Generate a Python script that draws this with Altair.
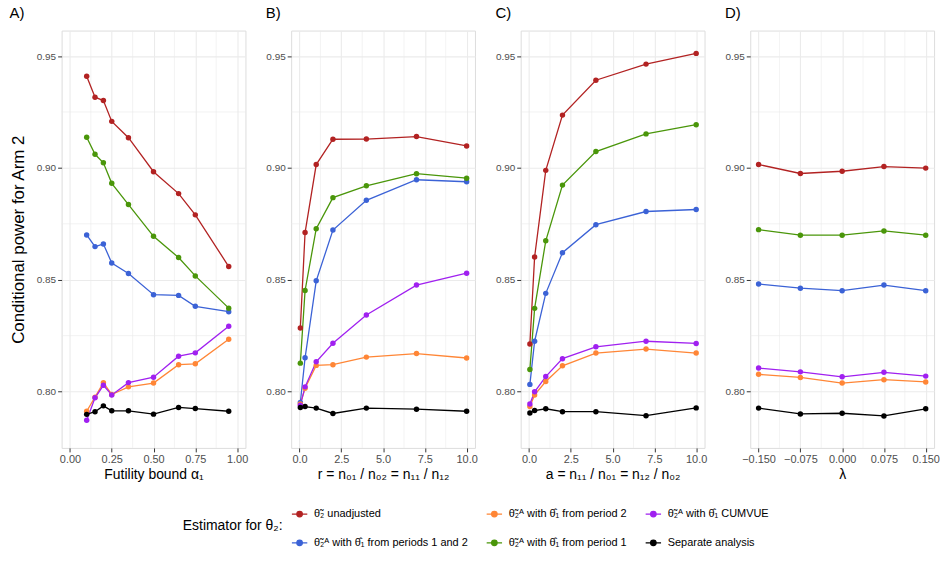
import altair as alt
import pandas as pd

# ---------------- data ----------------
series = [
    "θ̃₂ unadjusted",
    "θ̃₂ᴬ with θ̂₁ from periods 1 and 2",
    "θ̃₂ᴬ with θ̂₁ from period 2",
    "θ̃₂ᴬ with θ̂₁ from period 1",
    "θ̃₂ᴬ with θ̂₁ CUMVUE",
    "Separate analysis",
]
keys = ["red", "blue", "orange", "green", "purple", "black"]
colors = ["#B22222", "#3B62D6", "#FF8636", "#4A960A", "#A020F0", "#000000"]

# Panel A: futility bound alpha_1
a_x = [0.1, 0.15, 0.2, 0.25, 0.35, 0.5, 0.65, 0.75, 0.95]
a_red = [0.941, 0.9316, 0.9301, 0.9208, 0.9135, 0.8983, 0.8885, 0.8790, 0.8559]
a_green = [0.9137, 0.9061, 0.9023, 0.8931, 0.8836, 0.8694, 0.8599, 0.8517, 0.8373]
a_blue = [0.8700, 0.8648, 0.8660, 0.8575, 0.8528, 0.8433, 0.8430, 0.8381, 0.8357]
a_purple = [0.7872, 0.7972, 0.8028, 0.7985, 0.8040, 0.8064, 0.8158, 0.8173, 0.8292]
a_orange = [0.7912, 0.7975, 0.8040, 0.7987, 0.8021, 0.8038, 0.8120, 0.8124, 0.8234]
a_black = [0.7898, 0.7910, 0.7936, 0.7914, 0.7914, 0.7899, 0.7929, 0.7924, 0.7912]

# Panel B: r
b_x = [0.05, 0.333, 1, 2, 4, 7, 10]
b_red = [0.8284, 0.8711, 0.9015, 0.9128, 0.9129, 0.9140, 0.9098]
b_green = [0.8127, 0.8452, 0.8728, 0.8867, 0.8920, 0.8974, 0.8954]
b_blue = [0.7951, 0.8151, 0.8495, 0.8722, 0.8855, 0.8947, 0.8938]
b_purple = [0.7939, 0.8021, 0.8133, 0.8216, 0.8342, 0.8476, 0.8529]
b_orange = [0.7945, 0.8015, 0.8117, 0.8120, 0.8154, 0.8170, 0.8150]
b_black = [0.7929, 0.7933, 0.7926, 0.7902, 0.7926, 0.7921, 0.7912]

# Panel C: a
c_x = [0.05, 0.333, 1, 2, 4, 7, 10]
c_red = [0.8213, 0.8602, 0.8989, 0.9236, 0.9392, 0.9464, 0.9512]
c_green = [0.8099, 0.8372, 0.8674, 0.8923, 0.9073, 0.9152, 0.9193]
c_blue = [0.8032, 0.8225, 0.8439, 0.8621, 0.8746, 0.8805, 0.8814]
c_purple = [0.7944, 0.7999, 0.8067, 0.8147, 0.8200, 0.8225, 0.8215]
c_orange = [0.7933, 0.7985, 0.8045, 0.8115, 0.8172, 0.8190, 0.8172]
c_black = [0.7904, 0.7915, 0.7923, 0.7910, 0.7910, 0.7892, 0.7927]

# Panel D: lambda
d_x = [-0.15, -0.075, 0.0, 0.075, 0.15]
d_red = [0.9015, 0.8975, 0.8985, 0.9006, 0.8999]
d_green = [0.8724, 0.8699, 0.8699, 0.8718, 0.8699]
d_blue = [0.8481, 0.8462, 0.8451, 0.8476, 0.8451]
d_purple = [0.8105, 0.8088, 0.8066, 0.8086, 0.8069]
d_orange = [0.8077, 0.8063, 0.8038, 0.8053, 0.8043]
d_black = [0.7926, 0.7900, 0.7903, 0.7891, 0.7923]

y_ticks = [0.80, 0.85, 0.90, 0.95]
y_minor = [0.825, 0.875, 0.925]
y_domain = [0.7748, 0.9614]

a_ticks = [0.0, 0.25, 0.5, 0.75, 1.0]
a_minor = [0.125, 0.375, 0.625, 0.875]
bc_ticks = [0.0, 2.5, 5.0, 7.5, 10.0]
bc_minor = [1.25, 3.75, 6.25, 8.75]
d_ticks = [-0.15, -0.075, 0.0, 0.075, 0.15]
d_minor = [-0.1125, -0.0375, 0.0375, 0.1125]

FONT = "Liberation Sans"


def make_df(x, red, orange, purple, blue, green, black):
    vals = dict(red=red, orange=orange, purple=purple, blue=blue, green=green, black=black)
    rows = []
    for k, name in zip(keys, series):
        for xi, yi in zip(x, vals[k]):
            rows.append({"x": xi, "y": yi, "estimator": name})
    return pd.DataFrame(rows)


legend_path = ("M -1 0 L 1 0 M 0.36 0 A 0.36 0.36 0 1 1 -0.36 0 "
               "A 0.36 0.36 0 1 1 0.36 0 Z")

legend = alt.Legend(
    title="Estimator for θ₂:",
    orient="none",
    legendX=122,
    legendY=478,
    columns=3,
    titleOrient="left",
    titleAnchor="middle",
    titleFontSize=14,
    titleFontWeight="normal",
    titleColor="black",
    titleFont=FONT,
    titlePadding=8,
    labelFontSize=11,
    labelColor="black",
    labelFont=FONT,
    labelOffset=6,
    symbolType=legend_path,
    symbolSize=240,
    symbolStrokeWidth=1.3,
    columnPadding=16,
    rowPadding=15,
    labelLimit=400,
)

color = alt.Color(
    "estimator:N",
    scale=alt.Scale(domain=series, range=colors),
    legend=legend,
    sort=series,
)


def panel(df, xdom, xticks, xminor, xfmt, xtitle, title, ytitle):
    rule_x = alt.Chart(pd.DataFrame({"v": xminor})).mark_rule(
        color="#EBEBEB", strokeWidth=0.6
    ).encode(x=alt.X("v:Q", scale=alt.Scale(domain=xdom)))
    rule_y = alt.Chart(pd.DataFrame({"v": y_minor})).mark_rule(
        color="#EBEBEB", strokeWidth=0.6
    ).encode(y=alt.Y("v:Q", scale=alt.Scale(domain=y_domain)))

    xenc = alt.X(
        "x:Q",
        scale=alt.Scale(domain=xdom, nice=False, zero=False),
        axis=alt.Axis(
            values=xticks, format=xfmt, title=xtitle, titleFontSize=14,
            titleFontWeight="normal", titleColor="black", titleFont=FONT,
            titlePadding=3, labelFontSize=11, labelColor="#4D4D4D",
            labelFont=FONT, labelPadding=2, tickSize=4, tickColor="#333333",
            domain=False, grid=True, gridColor="#EBEBEB", gridWidth=1.1,
            labelOverlap=False,
        ),
    )
    yaxis = alt.Axis(
        values=y_ticks, format=".2f", title=ytitle if ytitle else None,
        titleFontSize=17, titleFontWeight="normal", titleColor="black",
        titleFont=FONT, titlePadding=9, labelFontSize=10, labelColor="#4D4D4D",
        labelFont=FONT, labelPadding=2, tickSize=4, tickColor="#333333",
        domain=False, grid=True, gridColor="#EBEBEB", gridWidth=1.1,
    )
    yenc = alt.Y("y:Q", scale=alt.Scale(domain=y_domain, nice=False, zero=False), axis=yaxis)

    base = alt.Chart(df)
    lines = base.mark_line(strokeWidth=1.3).encode(
        x=xenc, y=yenc, color=color, detail="estimator:N"
    )
    pts = base.mark_circle(size=30, opacity=1).encode(
        x=xenc, y=yenc, color=color
    )
    return alt.layer(rule_x, rule_y, lines, pts).properties(
        width=185, height=420,
        title=alt.TitleParams(title, anchor="start", fontSize=15,
                              fontWeight="normal", font=FONT, color="black",
                              offset=9),
    )


pA = panel(make_df(a_x, a_red, a_orange, a_purple, a_blue, a_green, a_black),
           [-0.05, 1.05], a_ticks, a_minor, ".2f", "Futility bound α₁", "A)",
           "Conditional power for Arm 2")
pB = panel(make_df(b_x, b_red, b_orange, b_purple, b_blue, b_green, b_black),
           [-0.5, 10.5], bc_ticks, bc_minor, ".1f", "r = n₀₁ / n₀₂ = n₁₁ / n₁₂", "B)", None)
pC = panel(make_df(c_x, c_red, c_orange, c_purple, c_blue, c_green, c_black),
           [-0.5, 10.5], bc_ticks, bc_minor, ".1f", "a = n₁₁ / n₀₁ = n₁₂ / n₀₂", "C)", None)
pD = panel(make_df(d_x, d_red, d_orange, d_purple, d_blue, d_green, d_black),
           [-0.165, 0.165], d_ticks, d_minor, ".3f", "λ", "D)", None)

chart = alt.hconcat(pA, pB, pC, pD, spacing=17).properties(
    padding={"left": 9, "top": 4, "right": 5, "bottom": 5},
    background="white",
).configure_view(
    stroke="#333333", strokeWidth=1
).configure(font=FONT)

chart.save("out.html", embed_options={"renderer": "svg", "actions": False})
